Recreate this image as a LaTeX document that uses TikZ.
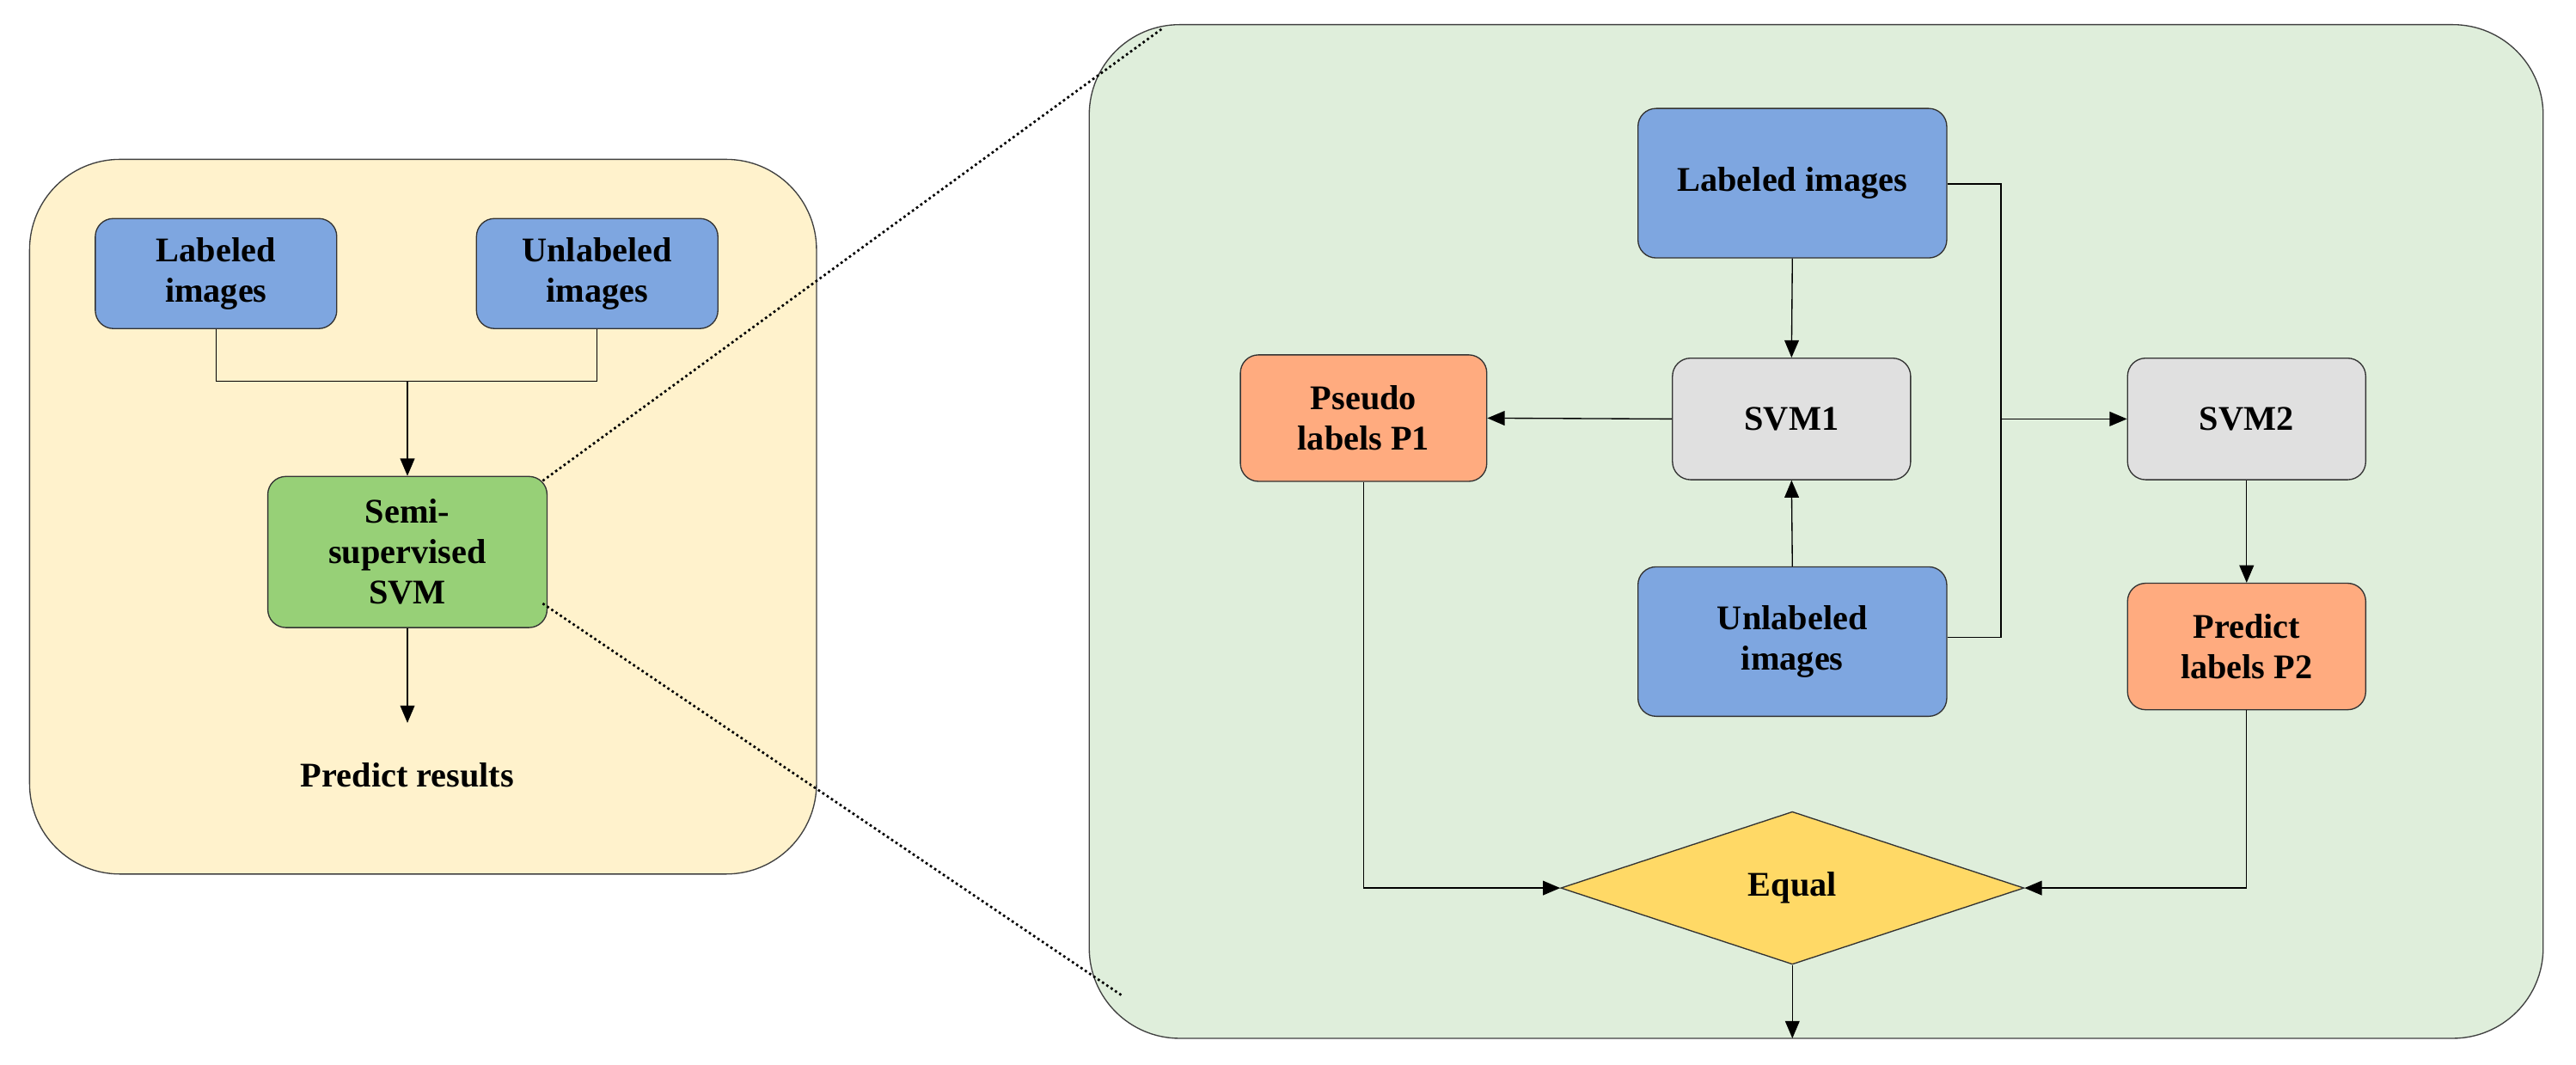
\documentclass[tikz,border=0pt]{standalone}
\usepackage{fontspec}
\setmainfont{Liberation Serif}
\usetikzlibrary{shapes.geometric,arrows.meta}
\definecolor{panelY}{HTML}{FFF2CC}
\definecolor{panelG}{HTML}{DFEEDB}
\definecolor{cBlue}{HTML}{7EA6E0}
\definecolor{cGreen}{HTML}{97D077}
\definecolor{cGray}{HTML}{E0E0E0}
\definecolor{cOr}{HTML}{FFAB7F}
\definecolor{cYel}{HTML}{FFD966}
\begin{document}
\begin{tikzpicture}[x=0.02cm,y=-0.02cm,
  font=\fontsize{12}{14}\selectfont\bfseries,
  box/.style={draw=black!80,rounded corners=0.22cm,align=center,inner sep=1pt},
  panel/.style={draw=black!75,rounded corners=1.1cm},
  arr/.style={-{Triangle[length=6pt,width=5pt]},black},
  ln/.style={black}]
\useasboundingbox (0,0) rectangle (1568,648);
\draw[panel,fill=panelY] (18,97) rectangle (497,532);
\draw[panel,fill=panelG] (663,15) rectangle (1548,632);
\node[box,fill=cBlue,minimum width=2.94cm,minimum height=1.34cm] (la) at (131.5,166.5) {Labeled\\images};
\node[box,fill=cBlue,minimum width=2.94cm,minimum height=1.34cm] (ua) at (363.5,166.5) {Unlabeled\\images};
\node[box,fill=cGreen,minimum width=3.4cm,minimum height=1.84cm] (semi) at (248,336) {Semi-\\supervised\\SVM};
\coordinate (j) at (248,232);
\coordinate (pr) at (248,440);
\node (res) at (248,472) {Predict results};
\draw[ln] (la.south) |- (j) -| (ua.south);
\draw[arr] (j) -- (semi.north);
\draw[arr] (semi.south) -- (pr);
\coordinate (c1) at (708,17);
\coordinate (c2) at (683,606);
\draw[densely dotted,thick] (semi.north east) ++(-3,3) -- (c1);
\draw[densely dotted,thick] (semi.south east) ++(-3,-15) -- (c2);
\node[box,fill=cBlue,minimum width=3.76cm,minimum height=1.82cm] (lb) at (1091,111.5) {Labeled images};
\node[box,fill=cGray,minimum width=2.9cm,minimum height=1.48cm] (s1) at (1090.5,255) {SVM1};
\node[box,fill=cOr,minimum width=3.0cm,minimum height=1.54cm] (p1) at (830,254.5) {Pseudo\\labels P1};
\node[box,fill=cGray,minimum width=2.9cm,minimum height=1.48cm] (s2) at (1367.5,255) {SVM2};
\node[box,fill=cBlue,minimum width=3.76cm,minimum height=1.82cm] (ub) at (1091,390.5) {Unlabeled\\images};
\node[box,fill=cOr,minimum width=2.9cm,minimum height=1.54cm] (p2) at (1367.5,393.5) {Predict\\labels P2};
\node[diamond,draw=black!80,fill=cYel,minimum width=5.64cm,minimum height=1.86cm,inner sep=0pt] (eq) at (1091,540.5) {Equal};
\coordinate (a) at (1218,112);
\coordinate (b) at (1218,388);
\coordinate (m) at (1218,255);
\coordinate (out) at (1091,632);
\draw[arr] (lb.south) -- (s1.north);
\draw[arr] (ub.north) -- (s1.south);
\draw[arr] (s1.west) -- (p1.east);
\draw[ln] (lb.east |- a) -- (a) -- (b) -- (ub.east |- b);
\draw[arr] (m) -- (s2.west);
\draw[arr] (s2.south) -- (p2.north);
\draw[arr] (p1.south) |- (eq.west);
\draw[arr] (p2.south) |- (eq.east);
\draw[arr] (eq.south) -- (out);
\end{tikzpicture}
\end{document}
